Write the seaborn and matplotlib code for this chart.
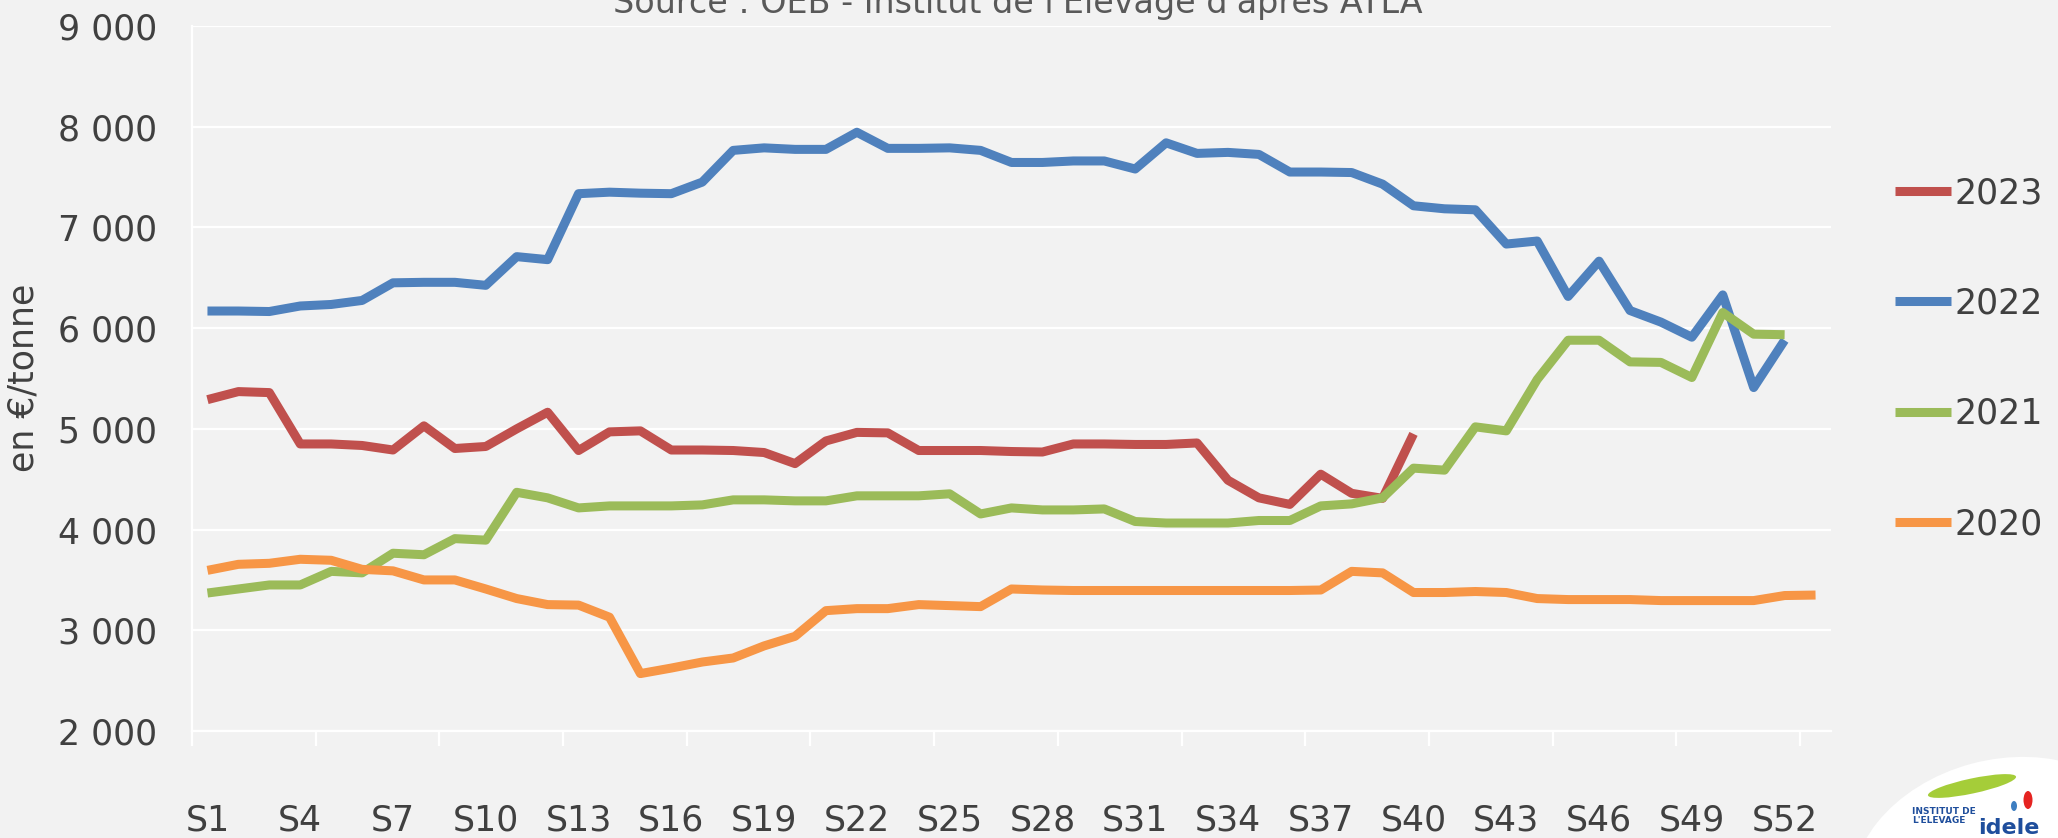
import matplotlib
matplotlib.use("Agg")
import matplotlib.pyplot as plt
from matplotlib.lines import Line2D
from matplotlib.patches import Ellipse
import seaborn as sns
import pandas as pd

# --- Data: weekly price, EUR / tonne ---
weeks = [f"S{i}" for i in range(1, 54)]
years = ["2023", "2022", "2021", "2020"]
colors = ["#C0504D", "#4F81BD", "#9BBB59", "#F79646"]

prix_2023 = [5290, 5370, 5360, 4850, 4850, 4835, 4790, 5030, 4805, 4825,
             5000, 5165, 4785, 4970, 4980, 4790, 4790, 4785, 4765, 4655,
             4880, 4965, 4960, 4785, 4785, 4785, 4775, 4770, 4850, 4850,
             4845, 4845, 4860, 4490, 4315, 4250, 4550, 4360, 4310, 4950]

prix_2022 = [6170, 6170, 6165, 6220, 6235, 6275, 6450, 6455, 6455, 6425,
             6710, 6680, 7335, 7350, 7340, 7335, 7450, 7765, 7790, 7775,
             7775, 7945, 7785, 7785, 7790, 7765, 7645, 7645, 7660, 7660,
             7580, 7840, 7735, 7745, 7725, 7550, 7550, 7545, 7430, 7215,
             7185, 7175, 6835, 6865, 6315, 6665, 6175, 6060, 5910, 6330,
             5410, 5880]

prix_2021 = [3370, 3410, 3450, 3450, 3585, 3570, 3765, 3750, 3910, 3895,
             4370, 4315, 4215, 4235, 4235, 4235, 4245, 4295, 4295, 4285,
             4285, 4335, 4335, 4335, 4355, 4155, 4215, 4195, 4195, 4205,
             4080, 4065, 4065, 4065, 4090, 4090, 4235, 4255, 4315, 4610,
             4590, 5020, 4980, 5490, 5880, 5880, 5665, 5660, 5510, 6155,
             5940, 5935]

prix_2020 = [3595, 3655, 3665, 3705, 3695, 3605, 3590, 3500, 3500, 3410,
             3315, 3255, 3250, 3130, 2570, 2625, 2685, 2725, 2845, 2940,
             3195, 3215, 3215, 3255, 3245, 3235, 3410, 3400, 3395, 3395,
             3395, 3395, 3395, 3395, 3395, 3395, 3400, 3585, 3570, 3375,
             3375, 3385, 3375, 3315, 3305, 3305, 3305, 3295, 3295, 3295,
             3295, 3345, 3350]

ytick_vals = [2000, 3000, 4000, 5000, 6000, 7000, 8000, 9000]
ytick_labels = ["2 000", "3 000", "4 000", "5 000", "6 000", "7 000", "8 000", "9 000"]

series = {"2023": prix_2023, "2022": prix_2022, "2021": prix_2021, "2020": prix_2020}
rows = []
for year, vals in series.items():
    for i, v in enumerate(vals):
        rows.append({"semaine": i, "annee": year, "prix": v})
df = pd.DataFrame(rows)

# --- Figure ---
sns.set_theme(style="white")
plt.rcParams["font.family"] = ["DejaVu Sans"]
bg = "#F2F2F2"
text_col = "#404040"
W, H = 2058, 838
lw = 6.5

fig = plt.figure(figsize=(W / 100, H / 100), dpi=100, facecolor=bg)
ax = fig.add_axes([192 / W, 1 - 731 / H, (1831 - 192) / W, (731 - 26) / H])
ax.set_facecolor(bg)

sns.lineplot(data=df, x="semaine", y="prix", hue="annee", hue_order=years,
             palette=colors, linewidth=lw, estimator=None, errorbar=None,
             legend=False, ax=ax, solid_joinstyle="round", solid_capstyle="butt")

ax.set_xlim(-0.5, 52.5)
ax.set_ylim(2000, 9000)
ax.set_xlabel("")
ax.set_ylabel("")

ax.set_yticks(ytick_vals)
ax.set_yticklabels(ytick_labels)
ax.set_xticks(range(0, 53, 3))
ax.set_xticklabels(weeks[::3])
ax.set_xticks([k - 0.5 for k in range(0, 53, 4)], minor=True)

ax.grid(axis="y", color="white", linewidth=1.6)
ax.set_axisbelow(True)
for side in ["top", "right"]:
    ax.spines[side].set_visible(False)
for side in ["left", "bottom"]:
    ax.spines[side].set_color("white")
    ax.spines[side].set_linewidth(1.6)

ax.tick_params(axis="y", length=0, pad=25, labelsize=25, labelcolor=text_col)
ax.tick_params(axis="x", which="major", length=0, pad=52, labelsize=25, labelcolor=text_col)
ax.tick_params(axis="x", which="minor", length=11, width=1.6, color="white", bottom=True)

# --- Legend on the right ---
handles = [Line2D([], [], color=c, linewidth=lw, solid_capstyle="butt") for c in colors]
fig.legend(handles, years, loc="upper left", bbox_to_anchor=(1895 / W, 1 - 176 / H),
           frameon=False, fontsize=25, handlelength=1.6, handletextpad=0.1,
           labelspacing=2.2, borderpad=0, borderaxespad=0, labelcolor=text_col)

# --- Texts ---
fig.text(24 / W, 1 - 378 / H, "en €/tonne", rotation=90, ha="center", va="center",
         fontsize=25, color=text_col)
fig.text(1018 / W, 1 - 13 / H, "Source : OEB - Institut de l'Elevage d'après ATLA",
         ha="center", va="baseline", fontsize=24, color="#595959")

# --- Logo (bottom right) ---
fig.add_artist(Ellipse((20.0, -0.32), 3.0, 2.2, angle=15, facecolor="white",
                       edgecolor="none", transform=fig.dpi_scale_trans))
fig.add_artist(Ellipse((19.72, 0.52), 0.9, 0.15, angle=12, facecolor="#A5CD39",
                       edgecolor="none", transform=fig.dpi_scale_trans))
fig.add_artist(Ellipse((20.28, 0.38), 0.09, 0.18, angle=0, facecolor="#E52421",
                       edgecolor="none", transform=fig.dpi_scale_trans))
fig.add_artist(Ellipse((20.14, 0.32), 0.06, 0.1, angle=0, facecolor="#3D7EC1",
                       edgecolor="none", transform=fig.dpi_scale_trans))
fig.text(1912 / W, 1 - 816 / H, "INSTITUT DE\nL'ELEVAGE", fontsize=6.5, fontweight="bold",
         color="#1F4E9C", ha="left", va="center", linespacing=1.0)
fig.text(1978 / W, 1 - 834 / H, "idele", fontsize=16, fontweight="bold",
         color="#1F4E9C", ha="left", va="baseline")

fig.savefig("out.png", dpi=100, facecolor=bg)
